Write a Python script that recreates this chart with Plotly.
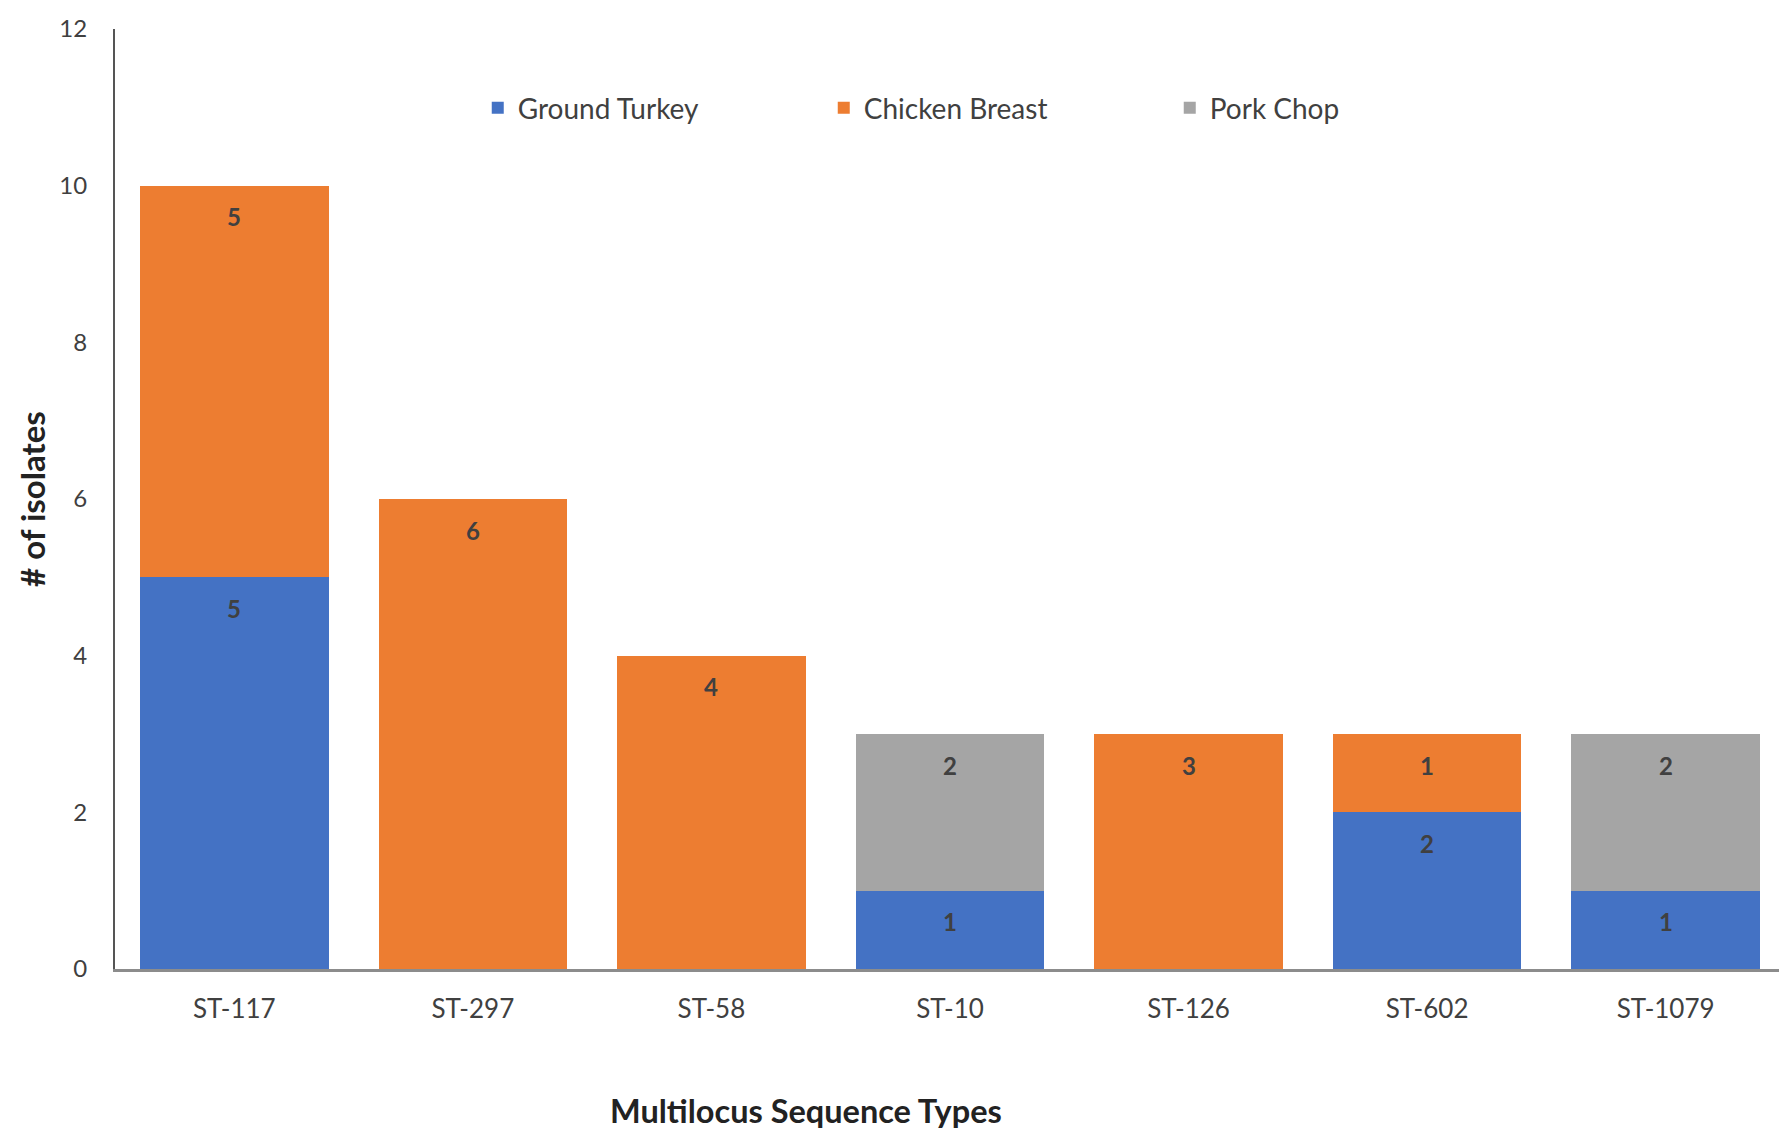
import plotly.graph_objects as go

# Isolate counts per multilocus sequence type, by meat source
sequence_types = ["ST-117", "ST-297", "ST-58", "ST-10", "ST-126", "ST-602", "ST-1079"]
ground_turkey = [5, 0, 0, 1, 0, 2, 1]
chicken_breast = [5, 6, 4, 0, 3, 1, 0]
pork_chop = [0, 0, 0, 2, 0, 0, 2]
y_ticks = [0, 2, 4, 6, 8, 10, 12]

series = [
    ("Ground Turkey", ground_turkey, "#4472C4"),
    ("Chicken Breast", chicken_breast, "#ED7D31"),
    ("Pork Chop", pork_chop, "#A5A5A5"),
]

FONT = "Lato, 'Open Sans', sans-serif"
PLOT_TOP, PLOT_BOTTOM = 29, 969

fig = go.Figure()
for name, values, color in series:
    fig.add_trace(go.Bar(
        name=name,
        x=sequence_types,
        y=values,
        marker=dict(color=color, line=dict(width=0)),
    ))

# Value labels just below the top of each stacked segment
annotations = []
running = [0] * len(sequence_types)
for name, values, color in series:
    for i, v in enumerate(values):
        running[i] += v
        if v:
            annotations.append(dict(
                x=sequence_types[i], y=running[i], xref="x", yref="y",
                text=f"<b>{v}</b>", showarrow=False, yshift=-31,
                yanchor="middle", xanchor="center",
                font=dict(family=FONT, size=24, color="#404040"),
            ))

# Axis titles (x title sits at pixel row ~1110)
annotations.append(dict(
    x=0.415, y=-(1110 - PLOT_BOTTOM) / (PLOT_BOTTOM - PLOT_TOP),
    xref="paper", yref="paper",
    text="<b>Multilocus Sequence Types</b>", showarrow=False,
    xanchor="center", yanchor="middle",
    font=dict(family=FONT, size=32.5, color="#222222"),
))
annotations.append(dict(
    x=-0.0499, y=0.5, xref="paper", yref="paper", textangle=-90,
    text="<b># of isolates</b>", showarrow=False,
    xanchor="center", yanchor="middle",
    font=dict(family=FONT, size=33, color="#222222"),
))

fig.update_layout(
    barmode="stack",
    bargap=0.21,
    width=1779, height=1130,
    margin=dict(l=115, r=0, t=PLOT_TOP, b=1130 - PLOT_BOTTOM, autoexpand=False),
    paper_bgcolor="white",
    plot_bgcolor="white",
    font=dict(family=FONT, color="#595959"),
    showlegend=True,
    legend=dict(
        orientation="h",
        x=0.218, y=0.916, xanchor="left", yanchor="middle",
        font=dict(family=FONT, size=28, color="#404040"),
        entrywidth=301, entrywidthmode="pixels",
        bgcolor="rgba(0,0,0,0)",
        traceorder="normal",
    ),
    annotations=annotations,
    xaxis=dict(
        range=[-0.5, 6.475],
        showline=True, linecolor="#8C8C8C", linewidth=3,
        showgrid=False, zeroline=False, ticks="",
        ticklabelstandoff=15,
        tickfont=dict(family=FONT, size=26, color="#404040"),
        fixedrange=True,
    ),
    yaxis=dict(
        range=[0, 12],
        tickvals=y_ticks,
        showline=True, linecolor="#555555", linewidth=2,
        showgrid=False, zeroline=False, ticks="",
        ticklabelstandoff=21,
        tickfont=dict(family=FONT, size=24, color="#404040"),
        fixedrange=True,
    ),
)

fig.write_html("out.html")
